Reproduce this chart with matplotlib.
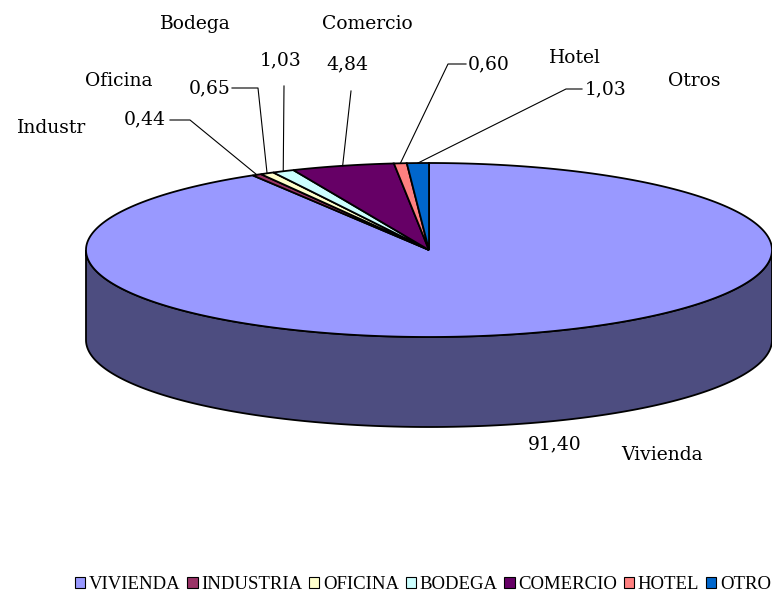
import numpy as np
import matplotlib
matplotlib.use("Agg")
import matplotlib.pyplot as plt
from matplotlib.patches import Polygon, Patch

# data
categories = ['VIVIENDA', 'INDUSTRIA', 'OFICINA', 'BODEGA', 'COMERCIO', 'HOTEL', 'OTRO']
short_labels = ['Vivienda', 'Industr', 'Oficina', 'Bodega', 'Comercio', 'Hotel', 'Otros']
values = [91.40, 0.44, 0.65, 1.03, 4.84, 0.60, 1.03]
colors = ['#9999FF', '#993366', '#FFFFCC', '#CCFFFF', '#660066', '#FF8080', '#0066CC']
side_color = '#4D4D80'

# geometry of the 3d pie (pixels)
cx, cy = 429, 250
rx, ry = 343, 87
depth = 90

fig = plt.figure(figsize=(7.72, 5.92), dpi=100)
ax = fig.add_axes([0, 0, 1, 1])
ax.set_xlim(0, 772)
ax.set_ylim(592, 0)
ax.axis('off')


def pt(t_deg, dy=0):
    t = np.radians(t_deg)
    return cx + rx * np.cos(t), cy - ry * np.sin(t) + dy


# side of the pie (front half)
ts = np.linspace(180, 360, 200)
top = [pt(t) for t in ts]
bot = [pt(t, depth) for t in ts[::-1]]
ax.add_patch(Polygon(top + bot, closed=True, facecolor=side_color,
                     edgecolor='black', lw=1.3, zorder=1))

# top wedges, clockwise from 12 o'clock
total = sum(values)
start = 90.0
mids = []
for v, c in zip(values, colors):
    sweep = v / total * 360
    end = start - sweep
    ts = np.linspace(start, end, max(int(sweep * 2), 3))
    poly = [(cx, cy)] + [pt(t) for t in ts]
    ax.add_patch(Polygon(poly, closed=True, facecolor=c,
                         edgecolor='black', lw=1.3, zorder=2))
    mids.append((start + end) / 2)
    start = end

# labels: (value text pos, name text pos, leader elbow or None)
val_pos = [(555, 444), (145, 119), (210, 88), (281, 60), (347, 64), (489, 64), (606, 89)]
name_pos = [(662, 455), (52, 128), (119, 81), (195, 24), (367, 24), (575, 58), (694, 81)]
elbows = [None, [(170, 120), (190, 120)], [(232, 88), (258, 88)], [(284, 86)],
          [(351, 91)], [(466, 64), (448, 64)], [(582, 89), (566, 89)]]

font = 'DejaVu Serif'
for i, v in enumerate(values):
    txt = f'{v:.2f}'.replace('.', ',')
    ax.text(*val_pos[i], txt, ha='center', va='center', fontsize=13.5, family=font)
    ax.text(*name_pos[i], short_labels[i], ha='center', va='center', fontsize=13.5, family=font)
    if elbows[i] is not None:
        ex, ey = pt(mids[i])
        pts = elbows[i] + [(ex, ey)]
        ax.plot([p[0] for p in pts], [p[1] for p in pts], color='black', lw=0.8, zorder=3)

handles = [Patch(facecolor=c, edgecolor='black', lw=0.8) for c in colors]
ax.legend(handles, categories, loc='center', bbox_to_anchor=(0.548, 0.013), ncol=7,
          frameon=False, prop={'family': 'Liberation Serif', 'size': 13.5},
          handlelength=0.55, handleheight=0.55, handletextpad=0.2, columnspacing=0.35)

fig.savefig('out.png', dpi=100)
